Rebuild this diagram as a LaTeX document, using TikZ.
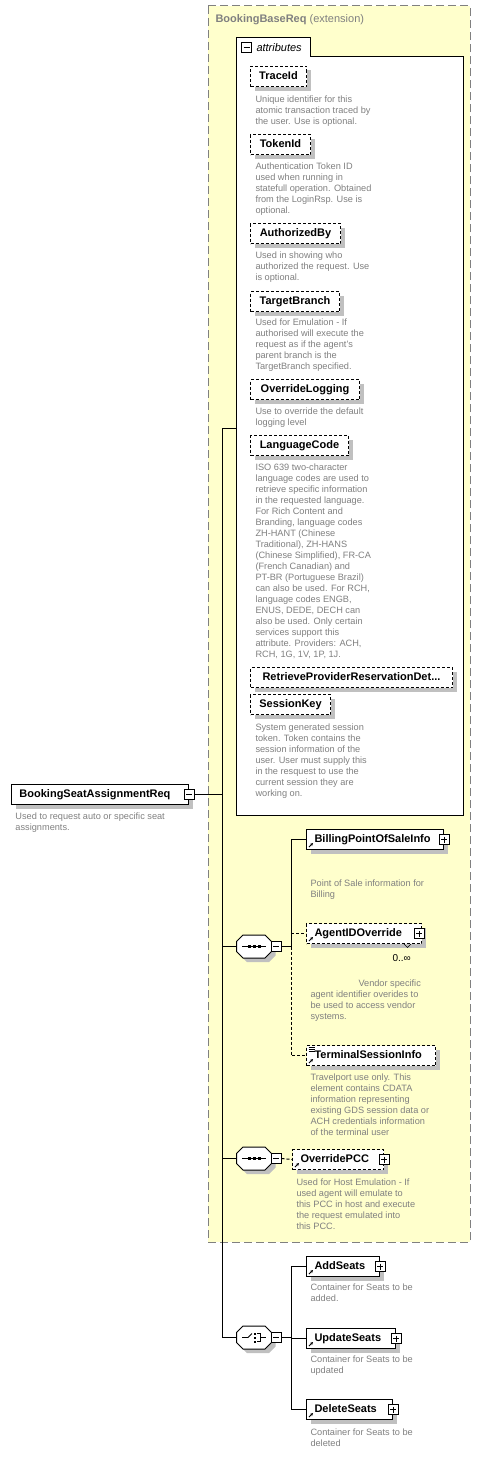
\documentclass[tikz,border=0pt]{standalone}
\usepackage{fontspec}
\setmainfont{Liberation Sans}
\usetikzlibrary{shadows,arrows.meta}
\definecolor{yel}{RGB}{255,255,204}
\definecolor{shad}{RGB}{192,192,192}
\definecolor{dtxt}{RGB}{128,128,128}
\definecolor{bord}{RGB}{128,128,128}
\tikzset{
  shd/.style={drop shadow={shadow xshift=4pt,shadow yshift=-4pt,fill=shad,opacity=1}},
  namefont/.style={font=\fontsize{11}{13}\selectfont\bfseries},
  elbox/.style={draw=black, fill=white, anchor=north west, inner ysep=0pt, inner xsep=8pt,
    minimum height=20pt, align=left, namefont, text height=8pt, text depth=2.5pt, shd},
  optbox/.style={elbox, dash pattern=on 3pt off 2pt},
  attrbox/.style={draw=black, fill=white, dash pattern=on 3pt off 2pt, anchor=north west,
    inner sep=0pt, minimum height=20pt, namefont, text height=8pt, text depth=2.5pt, shd},
  desc/.style={anchor=north west, inner sep=0pt, align=left, text=dtxt, font=\fontsize{9.2}{11}\selectfont},
  pm/.style={draw=black, fill=white, minimum size=10pt, inner sep=0pt},
  comp/.style={minimum width=34pt, minimum height=22pt, inner sep=0pt},
  conn/.style={draw=black},
  dconn/.style={draw=black, dash pattern=on 3pt off 2pt},
  refarrow/.style={-{Stealth[length=3pt,width=3pt]}, line width=0.8pt},
}
\newcommand\octagon[1]{%
  \draw[fill=white, shd] ([yshift=5pt]#1.west) -- ([xshift=-11pt]#1.north) -- ([xshift=11pt]#1.north)
    -- ([yshift=5pt]#1.east) -- ([yshift=-5pt]#1.east) -- ([xshift=11pt]#1.south)
    -- ([xshift=-11pt]#1.south) -- ([yshift=-5pt]#1.west) -- cycle;}
\begin{document}
\begin{tikzpicture}[x=1pt,y=-1pt,line width=1pt]
\useasboundingbox (0,0) rectangle (488,1464);

% extension box
\draw[draw=bord, fill=yel, dash pattern=on 8pt off 4pt] (208,6) rectangle (470,1242);
\node[anchor=base west, inner sep=0pt, text=dtxt, font=\fontsize{11}{13}\selectfont] (title) at (215,23) {\textbf{BookingBaseReq} (extension)};

% attributes box
\draw[fill=white] (236,815) -- (236,38) -- (310,38) -- (310,57) -- (463,57) -- (463,815) -- cycle;
\node[pm] (attrm) at (246.5,47.5) {};
\draw (attrm.center) +(-3,0) -- +(3,0);
\node[anchor=west, inner sep=0pt, font=\fontsize{11}{13}\selectfont\itshape] (attrtitle) at (256,47.5) {attributes};
\coordinate (attrL) at (236,428);

% attributes
\node[attrbox, minimum width=56pt] (traceid) at (250,66) {TraceId};
\node[desc] (d-traceid) at (255,95) {Unique identifier for this\\atomic transaction traced by\\the user. Use is optional.};
\node[attrbox, minimum width=60pt] (tokenid) at (250,134) {TokenId};
\node[desc] (d-tokenid) at (255,162) {Authentication Token ID\\used when running in\\statefull operation. Obtained\\from the LoginRsp. Use is\\optional.};
\node[attrbox, minimum width=90pt] (authby) at (250,223) {AuthorizedBy};
\node[desc] (d-authby) at (255,251) {Used in showing who\\authorized the request. Use\\is optional.};
\node[attrbox, minimum width=89pt] (target) at (250,291) {TargetBranch};
\node[desc] (d-target) at (255,318) {Used for Emulation - If\\authorised will execute the\\request as if the agent's\\parent branch is the\\TargetBranch specified.};
\node[attrbox, minimum width=109pt] (ovlog) at (250,379) {OverrideLogging};
\node[desc] (d-ovlog) at (255,407) {Use to override the default\\logging level};
\node[attrbox, minimum width=98pt] (lang) at (250,435) {LanguageCode};
\node[desc] (d-lang) at (255,463) {ISO 639 two-character\\language codes are used to\\retrieve specific information\\in the requested language.\\For Rich Content and\\Branding, language codes\\ZH-HANT (Chinese\\Traditional), ZH-HANS\\(Chinese Simplified), FR-CA\\(French Canadian) and\\PT-BR (Portuguese Brazil)\\can also be used. For RCH,\\language codes ENGB,\\ENUS, DEDE, DECH can\\also be used. Only certain\\services support this\\attribute. Providers: ACH,\\RCH, 1G, 1V, 1P, 1J.};
\node[attrbox, minimum width=202pt] (retrieve) at (250,667) {RetrieveProviderReservationDet...};
\node[attrbox, minimum width=80pt] (sesskey) at (250,694) {SessionKey};
\node[desc] (d-sesskey) at (255,723) {System generated session\\token. Token contains the\\session information of the\\user. User must supply this\\in the resquest to use the\\current session they are\\working on.};

% main element
\node[elbox, minimum width=177pt, text width=161pt] (main) at (11,784) {BookingSeatAssignmentReq};
\node[pm] (mainm) at (main.east) {};
\draw (mainm.center) +(-3,0) -- +(3,0);
\node[desc] (d-main) at (15,812) {Used to request auto or specific seat\\assignments.};

% compositors
\node[comp] (seq1) at (254,946.5) {};
\node[comp] (seq2) at (254,1158.5) {};
\node[comp] (choice) at (254,1337.5) {};
\octagon{seq1}
\octagon{seq2}
\octagon{choice}
\node[pm] (seq1m) at (276,946.5) {};
\node[pm] (seq2m) at (276,1158.5) {};
\node[pm] (choicem) at (276,1337.5) {};
\foreach \c in {seq1m,seq2m,choicem} \draw (\c.center) +(-3,0) -- +(3,0);
% sequence icons
\foreach \c in {seq1,seq2}{
  \draw (\c.center) +(-12,0) -- +(12,0);
  \fill ([shift={(-6.5,-1.5)}]\c.center) rectangle ++(3,3);
  \fill ([shift={(-1.5,-1.5)}]\c.center) rectangle ++(3,3);
  \fill ([shift={(3.5,-1.5)}]\c.center) rectangle ++(3,3);
}
% choice icon
\draw[line width=0.8pt] (choice.center) +(-12,0) -- +(-6,0) -- +(-2,-4);
\fill ([shift={(0,-5)}]choice.center) rectangle ++(2,2);
\fill ([shift={(0,-1)}]choice.center) rectangle ++(2,2);
\fill ([shift={(0,3)}]choice.center) rectangle ++(2,2);
\draw[line width=0.8pt] (choice.center) +(3,-4) -- +(6,-4) -- +(6,4) -- +(3,4) +(6,0) -- +(12,0);

% trunk connectors
\coordinate (tk) at (222,0);
\coordinate (br) at (291,0);
\draw[conn] (mainm.east) -- (mainm.east -| tk);
\draw[conn] (attrL) -- (attrL -| tk) -- (choice.west -| tk) -- (choice.west);
\draw[conn] (seq1.west -| tk) -- (seq1.west);
\draw[conn] (seq2.west -| tk) -- (seq2.west);

% sequence 1 children
\node[elbox, minimum width=137pt, text width=121pt] (billing) at (306,829) {BillingPointOfSaleInfo};
\node[pm] (billingp) at (billing.east) {};
\node[desc] (d-billing) at (310,879) {Point of Sale information for\\Billing};
\node[optbox, minimum width=115pt, text width=99pt] (agent) at (306,923) {AgentIDOverride};
\node[pm] (agentp) at ([xshift=-3pt]agent.east) {};
\draw[line width=0.6pt] (404,944) -- (407.5,947.5) -- (411,944);
\node[anchor=base west, inner sep=0pt, font=\fontsize{10}{12}\selectfont] (agentocc) at (392,961) {0..∞};
\node[desc] (d-agent) at (310,979) {\hspace*{48pt}Vendor specific\\agent identifier overides to\\be used to access vendor\\systems.};
\node[optbox, minimum width=129pt, text width=113pt] (terminal) at (306,1045) {TerminalSessionInfo};
\node[desc] (d-terminal) at (310,1073) {Travelport use only. This\\element contains CDATA\\information representing\\existing GDS session data or\\ACH credentials information\\of the terminal user};
\draw[line width=0.7pt] (308.5,1047.5) -- ++(6,0) (308.5,1049.5) -- ++(6,0) (308.5,1051.5) -- ++(6,0);

\draw[conn] (seq1m.east) -- (seq1m.east -| br);
\draw[conn] (billing.west) -- (billing.west -| br) -- (seq1m.east -| br);
\draw[dconn] (seq1m.east -| br) -- (terminal.west -| br) -- (terminal.west);
\draw[dconn] (agent.west -| br) -- (agent.west);

% sequence 2 child
\node[optbox, minimum width=91pt, text width=75pt] (pcc) at (292,1149) {OverridePCC};
\node[pm] (pccp) at (pcc.east) {};
\node[desc] (d-pcc) at (296,1178) {Used for Host Emulation - If\\used agent will emulate to\\this PCC in host and execute\\the request emulated into\\this PCC.};
\draw[dconn] (seq2m.east) -- (pcc.west);

% choice children
\node[elbox, minimum width=73pt, text width=57pt] (add) at (306,1256) {AddSeats};
\node[pm] (addp) at (add.east) {};
\node[desc] (d-add) at (310,1283) {Container for Seats to be\\added.};
\node[elbox, minimum width=89pt, text width=73pt] (upd) at (306,1328) {UpdateSeats};
\node[pm] (updp) at (upd.east) {};
\node[desc] (d-upd) at (310,1355) {Container for Seats to be\\updated};
\node[elbox, minimum width=86pt, text width=70pt] (del) at (306,1399) {DeleteSeats};
\node[pm] (delp) at (del.east) {};
\node[desc] (d-del) at (310,1428) {Container for Seats to be\\deleted};

\draw[conn] (choicem.east) -- (choicem.east -| br);
\draw[conn] (add.west) -- (add.west -| br) -- (del.west -| br) -- (del.west);
\draw[conn] (upd.west -| br) -- (upd.west);

% plus signs
\foreach \c in {billingp,agentp,pccp,addp,updp,delp} \draw (\c.center) +(-3,0) -- +(3,0) +(0,-3) -- +(0,3);
% reference arrows
\foreach \c in {billing,agent,terminal,pcc,add,upd,del}
  \draw[refarrow] ([shift={(3,-3)}]\c.south west) -- ++(4,-4);
\end{tikzpicture}
\end{document}
